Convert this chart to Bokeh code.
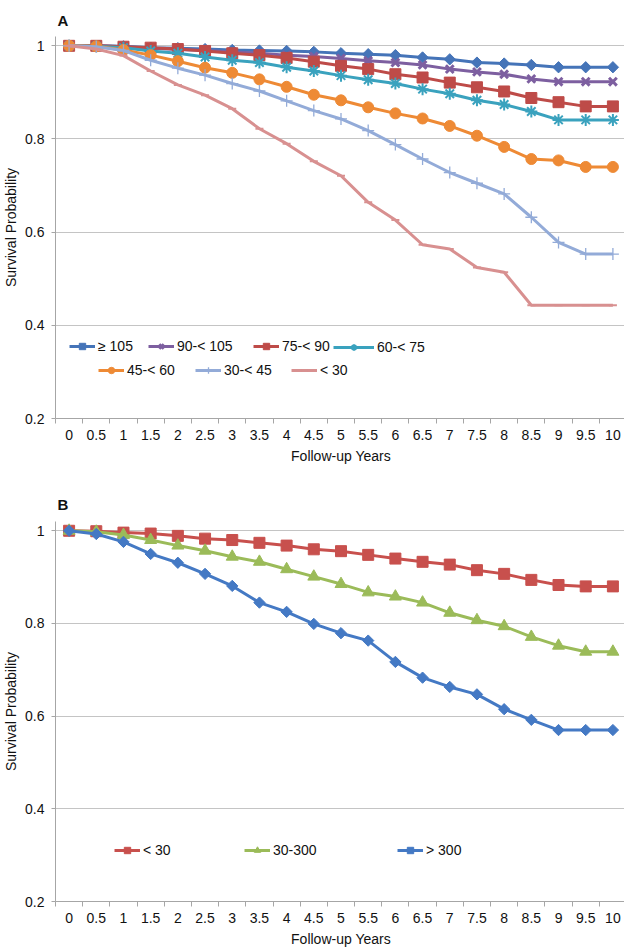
import math
from bokeh.plotting import figure
from bokeh.layouts import column
from bokeh.models import FixedTicker, NumeralTickFormatter, Legend, LegendItem, Range1d
from bokeh.embed import file_html
from bokeh.resources import INLINE

# ---------------- data ----------------
years = [0, 0.5, 1, 1.5, 2, 2.5, 3, 3.5, 4, 4.5, 5, 5.5, 6, 6.5, 7, 7.5, 8, 8.5, 9, 9.5, 10]
y_ticks = [0.2, 0.4, 0.6, 0.8, 1.0]

# Panel A
a_labels = ["≥ 105", "90-< 105", "75-< 90", "60-< 75", "45-< 60", "30-< 45", "< 30"]
a_ge105 = [1.0, 1.0, 0.999, 0.996, 0.995, 0.993, 0.991, 0.990, 0.989, 0.987, 0.984, 0.982, 0.980, 0.975, 0.971, 0.964, 0.962, 0.959, 0.954, 0.954, 0.954]
a_90_105 = [1.0, 1.0, 0.998, 0.995, 0.992, 0.990, 0.987, 0.984, 0.980, 0.977, 0.973, 0.968, 0.964, 0.959, 0.950, 0.944, 0.939, 0.929, 0.923, 0.923, 0.923]
a_75_90 = [1.0, 1.0, 0.998, 0.996, 0.993, 0.989, 0.984, 0.980, 0.974, 0.966, 0.957, 0.950, 0.939, 0.932, 0.921, 0.911, 0.902, 0.888, 0.879, 0.870, 0.870]
a_60_75 = [1.0, 0.999, 0.996, 0.989, 0.984, 0.976, 0.969, 0.964, 0.954, 0.946, 0.936, 0.927, 0.919, 0.907, 0.897, 0.883, 0.874, 0.859, 0.841, 0.841, 0.841]
a_45_60 = [1.0, 0.999, 0.991, 0.980, 0.967, 0.953, 0.942, 0.928, 0.912, 0.895, 0.883, 0.868, 0.855, 0.844, 0.828, 0.807, 0.783, 0.757, 0.754, 0.740, 0.740]
a_30_45 = [1.0, 0.998, 0.990, 0.969, 0.952, 0.937, 0.919, 0.903, 0.882, 0.861, 0.843, 0.818, 0.788, 0.757, 0.728, 0.705, 0.682, 0.632, 0.578, 0.553, 0.553]
a_lt30 = [1.0, 0.993, 0.979, 0.946, 0.916, 0.894, 0.865, 0.822, 0.790, 0.752, 0.721, 0.664, 0.626, 0.573, 0.564, 0.524, 0.514, 0.443, 0.443, 0.443, 0.443]

# Panel B
b_labels = ["< 30", "30-300", "> 300"]
b_lt30 = [1.0, 0.999, 0.996, 0.994, 0.989, 0.983, 0.980, 0.974, 0.968, 0.960, 0.956, 0.948, 0.940, 0.933, 0.927, 0.915, 0.907, 0.894, 0.883, 0.880, 0.880]
b_30_300 = [1.0, 0.998, 0.991, 0.980, 0.968, 0.957, 0.944, 0.933, 0.917, 0.901, 0.885, 0.867, 0.858, 0.845, 0.823, 0.807, 0.794, 0.771, 0.752, 0.739, 0.739]
b_gt300 = [1.0, 0.993, 0.976, 0.950, 0.931, 0.907, 0.881, 0.845, 0.825, 0.799, 0.779, 0.763, 0.717, 0.683, 0.663, 0.647, 0.615, 0.592, 0.570, 0.570, 0.570]

FONT = "Liberation Sans"
GRAY = "#A6A6A6"
TXT = "#111111"

# ---------------- styles ----------------
a_styles = [
    dict(color="#4574B8", marker="square", size=8, angle=math.pi / 4, mlw=1),
    dict(color="#7D5FA0", marker="x", size=11, angle=0, mlw=3),
    dict(color="#BE4B48", marker="square", size=11, angle=0, mlw=1),
    dict(color="#3AA2BE", marker="asterisk", size=12, angle=0, mlw=2),
    dict(color="#EE8A35", marker="circle", size=11, angle=0, mlw=1),
    dict(color="#93ABD8", marker="cross", size=12, angle=0, mlw=1.3),
    dict(color="#D89090", marker="dash", size=8, angle=0, mlw=2),
]
b_styles = [
    dict(color="#C8504D", marker="square", size=11, angle=0, mlw=1),
    dict(color="#9BBB59", marker="triangle", size=12, angle=0, mlw=1),
    dict(color="#4479C4", marker="square", size=8, angle=math.pi / 4, mlw=1),
]

# legend positions (screen px from frame bottom-left) and glyph widths
a_leg = [(14, 64, 26), (93, 64, 26), (198, 64, 26), (278, 63, 41), (43, 40, 26), (140, 40, 26), (236, 40, 26)]
b_leg = [(59, 43, 26), (189, 43, 26), (342, 43, 26)]


def make_fig(letter, frame_h, top, bottom, title_standoff):
    p = figure(frame_width=571, frame_height=frame_h,
               min_border_left=52, min_border_right=1,
               min_border_top=top, min_border_bottom=bottom,
               x_range=Range1d(-0.25, 10.25), y_range=Range1d(0.2, 1.02),
               output_backend="svg", toolbar_location=None, title=letter)
    p.title.text_font = FONT
    p.title.text_font_size = "15px"
    p.title.text_font_style = "bold"
    p.title.text_color = TXT
    p.title.align = "left"
    p.title.offset = 2
    p.title.standoff = title_standoff
    p.outline_line_color = None
    p.background_fill_color = "white"

    xa = p.xaxis[0]
    xa.ticker = FixedTicker(ticks=years, minor_ticks=[v - 0.25 for v in years] + [10.25])
    xa.formatter = NumeralTickFormatter(format="0.[0]")
    xa.major_tick_out = 0
    xa.major_tick_in = 0
    xa.minor_tick_out = 5
    xa.minor_tick_in = 0
    xa.minor_tick_line_color = GRAY
    xa.axis_line_color = GRAY
    xa.major_label_standoff = 6
    xa.major_label_text_font = FONT
    xa.major_label_text_font_size = "14px"
    xa.major_label_text_color = TXT
    xa.axis_label = "Follow-up Years"
    xa.axis_label_text_font = FONT
    xa.axis_label_text_font_size = "14px"
    xa.axis_label_text_font_style = "normal"
    xa.axis_label_text_color = TXT
    xa.axis_label_standoff = 5

    ya = p.yaxis[0]
    ya.ticker = FixedTicker(ticks=y_ticks)
    ya.formatter = NumeralTickFormatter(format="0.[0]")
    ya.major_tick_out = 4
    ya.major_tick_in = 0
    ya.major_tick_line_color = GRAY
    ya.minor_tick_line_color = None
    ya.axis_line_color = GRAY
    ya.major_label_standoff = 7
    ya.major_label_text_font = FONT
    ya.major_label_text_font_size = "14px"
    ya.major_label_text_color = TXT
    ya.axis_label = "Survival Probability"
    ya.axis_label_text_font = FONT
    ya.axis_label_text_font_size = "14px"
    ya.axis_label_text_font_style = "normal"
    ya.axis_label_text_color = TXT
    ya.axis_label_standoff = 3

    p.xgrid.visible = False
    p.ygrid.ticker = FixedTicker(ticks=[0.4, 0.6, 0.8, 1.0])
    p.ygrid.grid_line_color = "#C4C4C4"
    p.ygrid.grid_line_width = 1
    return p


def add_series(p, labels, series, styles, legs):
    for lab, vals, st, (lx, ly, gw) in zip(labels, series, styles, legs):
        rl = p.line(years, vals, line_width=3, color=st["color"])
        rm = p.scatter(years, vals, marker=st["marker"], size=st["size"], angle=st["angle"],
                       fill_color=st["color"], line_color=st["color"], line_width=st["mlw"])
        leg = Legend(items=[LegendItem(label=lab, renderers=[rl, rm])],
                     location=(lx, ly), orientation="horizontal",
                     padding=0, margin=0, spacing=0,
                     glyph_width=gw, glyph_height=16, label_height=16, label_width=10,
                     label_standoff=3, border_line_color=None, background_fill_alpha=0,
                     label_text_font=FONT, label_text_font_size="14px",
                     label_text_color=TXT)
        p.add_layout(leg)


pa = make_fig("A", 382, 36, 62, 15)
add_series(pa, a_labels, [a_ge105, a_90_105, a_75_90, a_60_75, a_45_60, a_30_45, a_lt30], a_styles, a_leg)

pb = make_fig("B", 380, 41, 49, 18)
add_series(pb, b_labels, [b_lt30, b_30_300, b_gt300], b_styles, b_leg)

layout = column(pa, pb, spacing=0)
open("out.html", "w").write(file_html(layout, INLINE))
